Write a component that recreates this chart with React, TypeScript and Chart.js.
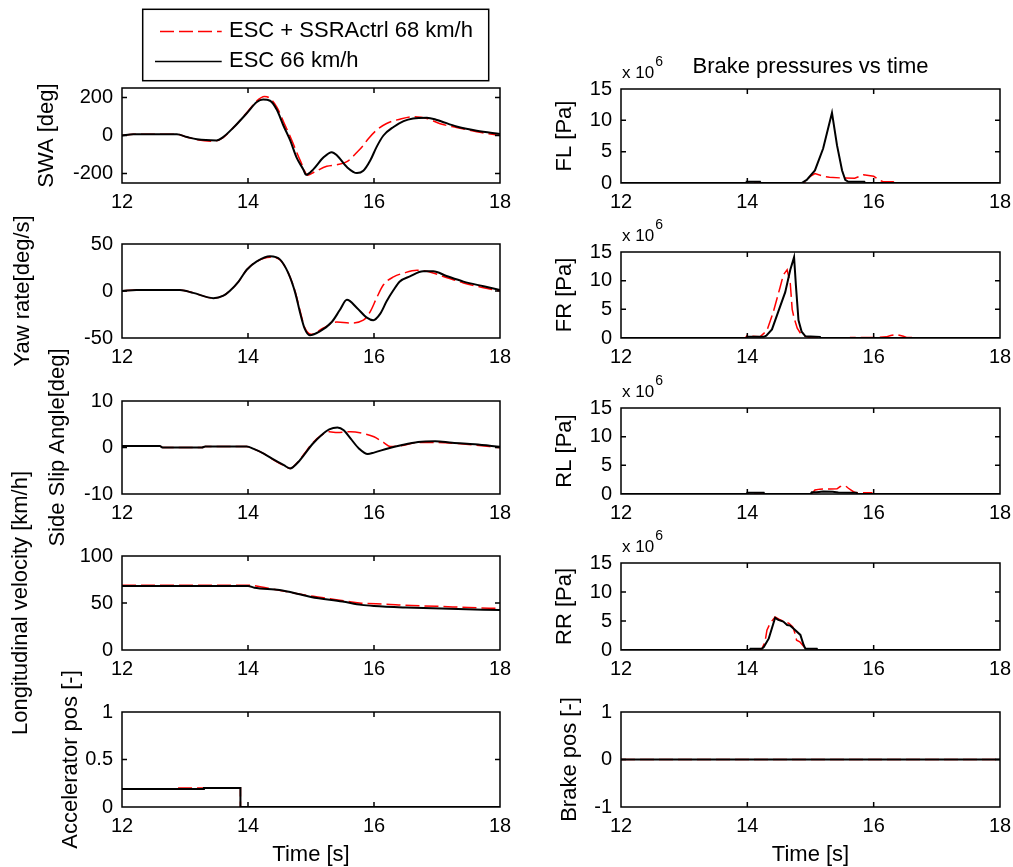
import React, { useEffect, useRef } from "react";
import { Chart, registerables } from "chart.js";

Chart.register(...registerables);

type Pt = [number, number];

// ---------- data ----------
const X_TICKS = [12, 14, 16, 18];
const LEGEND_LABELS = ["ESC + SSRActrl 68 km/h", "ESC 66 km/h"];

const SWA_TICKS = [-200, 0, 200];
const YAW_TICKS = [-50, 0, 50];
const SLIP_TICKS = [-10, 0, 10];
const VEL_TICKS = [0, 50, 100];
const ACC_TICKS = [0, 0.5, 1];
const PRESS_TICKS = [0, 5, 10, 15];
const BRAKE_TICKS = [-1, 0, 1];

// Steering wheel angle [deg]
const SWA_ESC: Pt[] = [[12,0],[12.18,6],[12.87,6],[13.03,-8],[13.19,-20],[13.5,-26],[13.6,-10],[13.77,42],[13.98,117],[14.14,176],[14.24,189],[14.35,183],[14.46,134],[14.56,54],[14.67,-26],[14.77,-115],[14.88,-180],[14.92,-207],[15.04,-177],[15.2,-115],[15.33,-88],[15.41,-104],[15.57,-166],[15.73,-198],[15.83,-186],[15.94,-132],[16.04,-61],[16.15,0],[16.31,45],[16.47,76],[16.62,90],[16.84,94],[17.0,82],[17.31,47],[17.63,25],[18,8]];
const SWA_SSR: Pt[] = [[12,0],[12.18,6],[12.87,6],[13.03,-8],[13.19,-22],[13.45,-30],[13.6,-12],[13.77,42],[13.98,120],[14.14,182],[14.26,205],[14.33,200],[14.46,148],[14.58,60],[14.67,-5],[14.83,-132],[14.95,-209],[15.06,-191],[15.25,-162],[15.41,-154],[15.57,-138],[15.73,-88],[15.83,-52],[15.91,-17],[16.04,28],[16.2,63],[16.41,86],[16.62,99],[16.84,90],[17.05,62],[17.31,42],[17.63,20],[18,0]];

// Yaw rate [deg/s]
const YAW_ESC: Pt[] = [[12,0],[12.23,1],[12.92,1],[13.13,-2],[13.45,-7.6],[13.61,-5],[13.71,0],[13.85,10],[13.98,22.6],[14.14,31.5],[14.35,37],[14.51,33.4],[14.64,19],[14.75,-2],[14.83,-24],[14.9,-40],[14.98,-47],[15.14,-43],[15.33,-33],[15.46,-20],[15.57,-9.4],[15.73,-18],[15.88,-28],[15.99,-31],[16.1,-24],[16.2,-11],[16.31,1],[16.41,10],[16.57,15.5],[16.78,21],[16.94,21],[17.15,16],[17.42,10],[17.74,5],[18,1]];
const YAW_SSR: Pt[] = [[12,0],[12.23,1],[12.92,1],[13.13,-2],[13.45,-7.6],[13.61,-5],[13.71,0],[13.85,10],[13.98,22.6],[14.14,31.5],[14.35,36],[14.51,33],[14.64,19],[14.75,-1],[14.83,-22],[14.9,-39],[15.0,-46],[15.19,-39.6],[15.41,-33],[15.62,-34],[15.83,-31],[15.94,-22],[16.04,-7.6],[16.15,6.6],[16.31,15],[16.47,19],[16.68,22],[16.84,21],[17.1,15.5],[17.42,8.6],[17.74,3.5],[18,0]];

// Side slip angle [deg]
const SLIP_ESC: Pt[] = [[12,0.3],[12.6,0.3],[12.65,0],[13.27,0],[13.32,0.2],[13.98,0.2],[14.09,-0.3],[14.25,-1.3],[14.41,-2.6],[14.57,-3.8],[14.67,-4.5],[14.78,-3.4],[14.89,-1.6],[15.02,0.7],[15.16,2.6],[15.29,3.9],[15.42,4.3],[15.52,3.7],[15.63,1.9],[15.76,-0.2],[15.9,-1.4],[16.0,-1.1],[16.22,-0.2],[16.43,0.5],[16.7,1.2],[16.97,1.36],[17.24,1.0],[17.6,0.7],[18,0.15]];
const SLIP_SSR: Pt[] = [[12,0.3],[12.6,0.3],[12.65,0],[13.27,0],[13.32,0.2],[13.98,0.2],[14.09,-0.3],[14.25,-1.3],[14.41,-2.7],[14.57,-3.9],[14.67,-4.5],[14.78,-3.3],[14.89,-1.4],[15.02,0.9],[15.16,2.6],[15.29,3.4],[15.42,3.2],[15.63,3.4],[15.83,3.0],[16.0,2.3],[16.15,1.1],[16.26,0.2],[16.43,0.4],[16.7,1.07],[16.97,1.07],[17.5,0.64],[18,-0.05]];

// Longitudinal velocity [km/h]
const VEL_ESC: Pt[] = [[12,68],[14.0,68],[14.1,66.3],[14.5,63.8],[14.8,59.6],[15.0,56.3],[15.5,51.5],[15.8,48],[16.0,46.8],[16.5,45.2],[17.2,43.8],[18,42.5]];
const VEL_SSR: Pt[] = [[12,69],[14.0,69],[14.3,66],[14.7,61],[15.0,57.5],[15.3,54.5],[15.6,51.5],[15.8,49.8],[16.2,48.8],[16.5,47.5],[17.0,46.5],[17.5,45.2],[18,44.2]];

// Accelerator position [-]
const ACC_ESC: Pt[] = [[12,0.19],[13.3,0.19],[13.3,0.2],[13.88,0.2],[13.88,0],[18,0]];
const ACC_SSR: Pt[] = [[12,0.19],[12.87,0.19],[12.87,0.2],[13.88,0.2],[13.88,0],[18,0]];

// Brake pressures [x 10^6 Pa]
const FL_ESC: Pt[] = [[12,0],[13.98,0],[13.99,0.2],[14.2,0.2],[14.21,0],[14.86,0],[14.94,0.5],[15.07,2],[15.2,5.5],[15.34,11.2],[15.42,6],[15.5,2],[15.55,0.5],[15.6,0.2],[15.85,0.2],[15.86,0],[18,0]];
const FL_SSR: Pt[] = [[12,0],[14.9,0],[14.99,1],[15.07,1.5],[15.2,1.1],[15.3,0.9],[15.5,0.8],[15.7,0.75],[15.84,1.3],[15.92,1.2],[16.0,1.07],[16.1,0.4],[16.15,0.2],[16.31,0.2],[16.33,0],[18,0]];
const FR_ESC: Pt[] = [[12,0],[13.99,0],[14.0,0.2],[14.26,0.2],[14.3,0.4],[14.39,1.5],[14.49,4.6],[14.6,8],[14.68,11.9],[14.74,14.1],[14.77,9],[14.81,3.1],[14.86,1.1],[14.92,0.3],[15.15,0.2],[15.16,0],[18,0]];
const FR_SSR: Pt[] = [[12,0],[13.97,0],[14.0,0.5],[14.08,0.3],[14.2,0.2],[14.31,1.3],[14.41,4.5],[14.52,8.9],[14.57,11],[14.63,11.9],[14.68,9.5],[14.71,5],[14.74,3.5],[14.79,1.7],[14.86,0.5],[14.95,0.2],[15.0,0],[15.62,0],[15.63,0.1],[16.0,0.1],[16.2,0.2],[16.27,0.45],[16.36,0.6],[16.47,0.3],[16.52,0.1],[16.65,0.1],[16.67,0],[18,0]];
const RL_ESC: Pt[] = [[12,0],[13.99,0],[14.0,0.2],[14.26,0.2],[14.27,0],[15.0,0],[15.02,0.3],[15.1,0.3],[15.2,0.45],[15.35,0.4],[15.44,0.25],[15.73,0.2],[15.74,0],[18,0]];
const RL_SSR: Pt[] = [[12,0],[15.02,0],[15.07,0.7],[15.15,0.85],[15.31,0.87],[15.42,0.9],[15.47,1.3],[15.55,1.45],[15.6,1.0],[15.68,0.4],[15.73,0.2],[15.97,0.2],[15.98,0],[18,0]];
const RR_ESC: Pt[] = [[12,0],[14.04,0],[14.05,0.2],[14.23,0.2],[14.26,0.5],[14.34,2],[14.44,5.55],[14.49,5.2],[14.57,4.9],[14.63,4.3],[14.68,4.2],[14.73,3.7],[14.84,2.6],[14.89,0.9],[14.92,0.2],[15.1,0.2],[15.11,0],[18,0]];
const RR_SSR: Pt[] = [[12,0],[14.2,0],[14.23,0.2],[14.28,1.4],[14.31,3.4],[14.36,4.6],[14.44,5.7],[14.5,5.3],[14.6,4.8],[14.66,4.6],[14.72,4.0],[14.75,3.0],[14.78,1.7],[14.83,1.4],[14.9,0.5],[14.95,0],[18,0]];

// Brake pedal position [-]
const BRAKE_ESC: Pt[] = [[12,0],[18,0]];
const BRAKE_SSR: Pt[] = [[12,0],[18,0]];

// ---------- layout / style ----------
const FONT = "'Liberation Sans', Arial, Helvetica, sans-serif";
const CANVAS_W = 1050;
const CANVAS_H = 900;
const RED = "#ff0000";
const BLACK = "#000000";
const DASH = [14, 5];

interface PanelSpec {
  key: string;
  l: number; r: number; t: number; b: number;
  yMin: number; yMax: number; yTicks: number[];
  yLabel: string; labelX: number;
  ssr: Pt[]; esc: Pt[];
  smooth: boolean;
  xTitle?: boolean;
  title?: string;
  exponent?: boolean;
  legend?: boolean;
}

const LX0 = 122, LX1 = 500, RX0 = 621, RX1 = 1000;

const PANELS: PanelSpec[] = [
  { key: "swa", l: LX0, r: LX1, t: 88, b: 183, yMin: -250, yMax: 250, yTicks: SWA_TICKS, yLabel: "SWA [deg]", labelX: 47.4, ssr: SWA_SSR, esc: SWA_ESC, smooth: true, legend: true },
  { key: "yaw", l: LX0, r: LX1, t: 244, b: 338, yMin: -50, yMax: 50, yTicks: YAW_TICKS, yLabel: "Yaw rate[deg/s]", labelX: 23.1, ssr: YAW_SSR, esc: YAW_ESC, smooth: true },
  { key: "slip", l: LX0, r: LX1, t: 401, b: 494, yMin: -10, yMax: 10, yTicks: SLIP_TICKS, yLabel: "Side Slip Angle[deg]", labelX: 58.1, ssr: SLIP_SSR, esc: SLIP_ESC, smooth: true },
  { key: "vel", l: LX0, r: LX1, t: 556, b: 650, yMin: 0, yMax: 100, yTicks: VEL_TICKS, yLabel: "Longitudinal velocity [km/h]", labelX: 21.4, ssr: VEL_SSR, esc: VEL_ESC, smooth: true },
  { key: "acc", l: LX0, r: LX1, t: 712, b: 807, yMin: 0, yMax: 1, yTicks: ACC_TICKS, yLabel: "Accelerator pos [-]", labelX: 71.4, ssr: ACC_SSR, esc: ACC_ESC, smooth: false, xTitle: true },
  { key: "fl", l: RX0, r: RX1, t: 89, b: 183, yMin: 0, yMax: 15, yTicks: PRESS_TICKS, yLabel: "FL [Pa]", labelX: 564.8, ssr: FL_SSR, esc: FL_ESC, smooth: false, title: "Brake pressures vs time", exponent: true },
  { key: "fr", l: RX0, r: RX1, t: 252, b: 338, yMin: 0, yMax: 15, yTicks: PRESS_TICKS, yLabel: "FR [Pa]", labelX: 564.8, ssr: FR_SSR, esc: FR_ESC, smooth: false, exponent: true },
  { key: "rl", l: RX0, r: RX1, t: 408, b: 494, yMin: 0, yMax: 15, yTicks: PRESS_TICKS, yLabel: "RL [Pa]", labelX: 564.8, ssr: RL_SSR, esc: RL_ESC, smooth: false, exponent: true },
  { key: "rr", l: RX0, r: RX1, t: 563, b: 650, yMin: 0, yMax: 15, yTicks: PRESS_TICKS, yLabel: "RR [Pa]", labelX: 564.8, ssr: RR_SSR, esc: RR_ESC, smooth: false, exponent: true },
  { key: "brake", l: RX0, r: RX1, t: 712, b: 807, yMin: -1, yMax: 1, yTicks: BRAKE_TICKS, yLabel: "Brake pos [-]", labelX: 569.8, ssr: BRAKE_SSR, esc: BRAKE_ESC, smooth: false, xTitle: true },
];

function toXY(a: Pt[]) {
  return a.map(([x, y]) => ({ x, y }));
}

function framePlugin(p: PanelSpec) {
  return {
    id: "frame_" + p.key,
    afterDatasetsDraw(chart: any) {
      const { ctx, chartArea: a, scales } = chart;
      const xs = scales.x;
      const ys = scales.y;
      ctx.save();
      ctx.strokeStyle = BLACK;
      ctx.lineWidth = 1.5;
      ctx.setLineDash([]);
      ctx.beginPath();
      ctx.rect(a.left, a.top, a.right - a.left, a.bottom - a.top);
      const tl = 5;
      xs.ticks.forEach((tk: any) => {
        const px = xs.getPixelForValue(tk.value);
        ctx.moveTo(px, a.bottom);
        ctx.lineTo(px, a.bottom - tl);
        ctx.moveTo(px, a.top);
        ctx.lineTo(px, a.top + tl);
      });
      ys.ticks.forEach((tk: any) => {
        const py = ys.getPixelForValue(tk.value);
        ctx.moveTo(a.left, py);
        ctx.lineTo(a.left + tl, py);
        ctx.moveTo(a.right, py);
        ctx.lineTo(a.right - tl, py);
      });
      ctx.stroke();

      if (p.exponent) {
        ctx.fillStyle = BLACK;
        ctx.textAlign = "left";
        ctx.textBaseline = "alphabetic";
        ctx.font = `17px ${FONT}`;
        const base = "x 10";
        ctx.fillText(base, a.left + 1, a.top - 11);
        const w = ctx.measureText(base).width;
        ctx.font = `14px ${FONT}`;
        ctx.fillText("6", a.left + 2 + w, a.top - 23);
      }

      if (p.legend) {
        const ds = chart.data.datasets;
        const bx = 142.7, by = 9.3, bw = 346, bh = 71.4;
        ctx.fillStyle = "#ffffff";
        ctx.fillRect(bx, by, bw, bh);
        ctx.strokeStyle = BLACK;
        ctx.lineWidth = 1.5;
        ctx.strokeRect(bx, by, bw, bh);
        const rows = [
          { y: 31.5, d: ds[0] },
          { y: 61.5, d: ds[1] },
        ];
        rows.forEach((row) => {
          ctx.strokeStyle = row.d.borderColor;
          ctx.lineWidth = 1.5;
          const dash = row.d.borderDash || [];
          ctx.setLineDash(dash);
          ctx.lineDashOffset = dash.length ? dash[0] : 0;
          ctx.beginPath();
          ctx.moveTo(155, row.y);
          ctx.lineTo(221.7, row.y);
          ctx.stroke();
          ctx.setLineDash([]);
          ctx.lineDashOffset = 0;
          ctx.fillStyle = BLACK;
          ctx.font = `22px ${FONT}`;
          ctx.textAlign = "left";
          ctx.textBaseline = "middle";
          ctx.fillText(row.d.label, 229, row.y - 1);
        });
      }
      ctx.restore();
    },
  };
}

function Panel({ p }: { p: PanelSpec }) {
  const ref = useRef<HTMLCanvasElement>(null);
  useEffect(() => {
    const canvas = ref.current;
    if (!canvas) return;
    const xAxisH = p.xTitle ? 61 : 40;
    const padLeft = p.labelX - 13.2;
    const titlePadBottom = 9.3;
    const padTop = p.title ? p.t - 26.4 - titlePadBottom : p.t;
    const lineCommon = {
      pointRadius: 0,
      fill: false,
      tension: 0,
      cubicInterpolationMode: p.smooth ? "monotone" : "default",
    };
    const chart = new Chart(canvas, {
      type: "line",
      data: {
        datasets: [
          { ...lineCommon, label: LEGEND_LABELS[0], data: toXY(p.ssr), borderColor: RED, borderWidth: 1.5, borderDash: DASH, order: 1 },
          { ...lineCommon, label: LEGEND_LABELS[1], data: toXY(p.esc), borderColor: BLACK, borderWidth: 2, order: 0 },
        ],
      } as any,
      options: {
        responsive: false,
        animation: false,
        devicePixelRatio: 1,
        events: [],
        layout: {
          padding: {
            left: padLeft,
            top: padTop,
            right: CANVAS_W - p.r,
            bottom: CANVAS_H - p.b - xAxisH,
          },
        },
        plugins: {
          legend: { display: false },
          tooltip: { enabled: false },
          title: p.title
            ? {
                display: true,
                text: p.title,
                fullSize: false,
                color: BLACK,
                font: { family: FONT, size: 22, weight: "normal" },
                padding: { top: 0, bottom: titlePadBottom },
              }
            : { display: false },
        },
        scales: {
          x: {
            type: "linear",
            min: 12,
            max: 18,
            afterBuildTicks: (s: any) => {
              s.ticks = X_TICKS.map((v) => ({ value: v }));
            },
            afterFit: (s: any) => {
              s.height = xAxisH;
            },
            grid: { display: false, drawTicks: false, tickLength: 0 },
            border: { display: false },
            ticks: {
              color: BLACK,
              font: { family: FONT, size: 20 },
              padding: 7,
              maxRotation: 0,
              minRotation: 0,
              autoSkip: false,
              callback: (v: any) => String(v),
            },
            title: p.xTitle
              ? { display: true, text: "Time [s]", color: BLACK, font: { family: FONT, size: 22 }, padding: { top: 0, bottom: 0 } }
              : { display: false },
          },
          y: {
            type: "linear",
            min: p.yMin,
            max: p.yMax,
            afterBuildTicks: (s: any) => {
              s.ticks = p.yTicks.map((v) => ({ value: v }));
            },
            afterFit: (s: any) => {
              s.width = p.l - padLeft;
            },
            grid: { display: false, drawTicks: false, tickLength: 0 },
            border: { display: false },
            ticks: {
              color: BLACK,
              font: { family: FONT, size: 20 },
              padding: 9,
              autoSkip: false,
              callback: (v: any) => String(v),
            },
            title: { display: true, text: p.yLabel, color: BLACK, font: { family: FONT, size: 22 }, padding: { top: 0, bottom: 0 } },
          },
        },
      } as any,
      plugins: [framePlugin(p)],
    });
    return () => chart.destroy();
  }, [p]);
  return (
    <canvas
      ref={ref}
      width={CANVAS_W}
      height={CANVAS_H}
      style={{ position: "absolute", left: 0, top: 0, width: CANVAS_W, height: CANVAS_H }}
    />
  );
}

export default function App() {
  return (
    <div
      style={{
        position: "fixed",
        left: 0,
        top: 0,
        width: 1013,
        height: 867,
        overflow: "hidden",
        background: "#ffffff",
      }}
    >
      {PANELS.map((p) => (
        <Panel key={p.key} p={p} />
      ))}
    </div>
  );
}
